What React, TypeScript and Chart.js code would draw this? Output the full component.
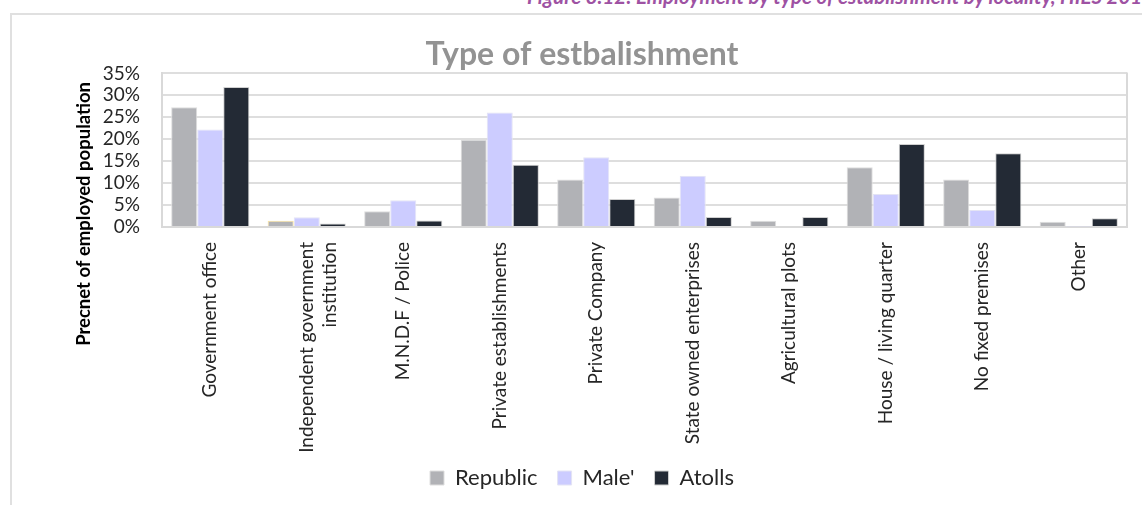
import React, { useEffect, useRef } from "react";
import { Chart, registerables } from "chart.js";

Chart.register(...registerables);

const categories: (string | string[])[] = [
  "Government office",
  ["Independent government", "institution"],
  "M.N.D.F / Police",
  "Private establishments",
  "Private Company",
  "State owned enterprises",
  "Agricultural plots",
  "House / living quarter",
  "No fixed premises",
  "Other",
];

const seriesNames = ["Republic", "Male'", "Atolls"];
const republic = [27.3, 1.4, 3.6, 19.9, 10.8, 6.7, 1.4, 13.6, 10.8, 1.2];
const male = [22.2, 2.2, 6.1, 26.1, 15.9, 11.7, 0, 7.5, 3.9, 0.1];
const atolls = [31.9, 0.8, 1.5, 14.2, 6.4, 2.3, 2.3, 18.9, 16.8, 2.0];

const yMin = 0;
const yMax = 35;
const yStep = 5;

const chartTitle = "Type of estbalishment";
const yAxisTitle = "Precnet of employed population";
const caption = "Figure 3.12: Employment by type of establishment by locality, HIES 2019";

const FONT = "Lato, 'Open Sans', sans-serif";

export default function App() {
  const canvasRef = useRef<HTMLCanvasElement | null>(null);

  useEffect(() => {
    const canvas = canvasRef.current;
    if (!canvas) return;

    const extras = {
      id: "extras",
      afterDraw(chart: any) {
        const { ctx, chartArea } = chart;
        ctx.save();
        ctx.strokeStyle = "#d9d9d9";
        ctx.lineWidth = 2;
        ctx.beginPath();
        ctx.moveTo(chartArea.right, chartArea.top - 1);
        ctx.lineTo(chartArea.right, chartArea.bottom + 1);
        ctx.stroke();
        ctx.translate(73, 68);
        ctx.rotate(-Math.PI / 2);
        ctx.font = `bold 18.5px ${FONT}`;
        ctx.fillStyle = "#000000";
        ctx.textAlign = "right";
        ctx.textBaseline = "middle";
        ctx.fillText(yAxisTitle, 0, 0);
        ctx.restore();
      },
    };

    const chart = new Chart(canvas, {
      type: "bar",
      data: {
        labels: categories,
        datasets: [
          {
            label: seriesNames[0],
            data: republic,
            backgroundColor: "#B1B2B6",
            borderColor: republic.map((_, i) => (i === 1 ? "#FFE699" : "#dedede")),
            borderWidth: 1,
          },
          {
            label: seriesNames[1],
            data: male,
            backgroundColor: "#CCCCFF",
            borderColor: "#e4e4f4",
            borderWidth: 1,
          },
          {
            label: seriesNames[2],
            data: atolls,
            backgroundColor: "#232A35",
            borderColor: "#d0d0d0",
            borderWidth: 1,
          },
        ],
      },
      options: {
        responsive: false,
        animation: false,
        devicePixelRatio: 1,
        datasets: { bar: { categoryPercentage: 0.81, barPercentage: 1.0 } },
        layout: { padding: { left: 0, right: 0, top: 0, bottom: 6 } },
        plugins: {
          title: {
            display: true,
            text: chartTitle,
            color: "#939393",
            font: { family: FONT, size: 32, weight: "bold" },
            padding: { top: 21, bottom: 0 },
          },
          legend: {
            position: "bottom",
            labels: {
              boxWidth: 14,
              boxHeight: 14,
              padding: 20,
              color: "#262626",
              font: { family: FONT, size: 22 },
            },
          },
          tooltip: { enabled: false },
        },
        scales: {
          x: {
            grid: { display: false },
            border: { display: true, color: "#d9d9d9", width: 2 },
            ticks: {
              color: "#262626",
              font: { family: FONT, size: 19 },
              maxRotation: 90,
              minRotation: 90,
              padding: 7,
              autoSkip: false,
            },
            afterFit(scale: any) {
              scale.height = 220;
              scale._computeLabelArea = () => undefined;
            },
          },
          y: {
            min: yMin,
            max: yMax,
            grid: { color: "#dedede", lineWidth: 2, drawTicks: false },
            border: { display: true, color: "#d9d9d9", width: 2 },
            ticks: {
              stepSize: yStep,
              autoSkip: false,
              color: "#262626",
              font: { family: FONT, size: 19 },
              padding: 22,
              callback: (v: any) => `${v}%`,
            },
            afterFit(scale: any) {
              scale.width = 151;
            },
          },
          yRight: {
            position: "right",
            min: yMin,
            max: yMax,
            grid: { display: false, drawOnChartArea: false, drawTicks: false },
            border: { display: false },
            ticks: { display: false },
            afterFit(scale: any) {
              scale.width = 26;
            },
          },
        },
      },
      plugins: [extras],
    });

    return () => chart.destroy();
  }, []);

  return (
    <div style={{ position: "fixed", left: 0, top: 0, width: 1142, height: 505, overflow: "hidden", background: "#ffffff" }}>
      <div
        style={{
          position: "absolute",
          left: 527,
          top: -16.5,
          whiteSpace: "nowrap",
          fontFamily: FONT,
          fontStyle: "italic",
          fontWeight: "bold",
          fontSize: 20.5,
          lineHeight: "normal",
          color: "#9E52A3",
        }}
      >
        {caption}
      </div>
      <div
        style={{
          position: "absolute",
          left: 10,
          top: 13,
          width: 1200,
          height: 600,
          borderLeft: "2px solid #e0e0e0",
          borderTop: "2px solid #e0e0e0",
          boxSizing: "border-box",
        }}
      />
      <canvas
        ref={canvasRef}
        width={1142}
        height={491}
        style={{ position: "absolute", left: 11, top: 14, width: 1142, height: 491 }}
      />
    </div>
  );
}
